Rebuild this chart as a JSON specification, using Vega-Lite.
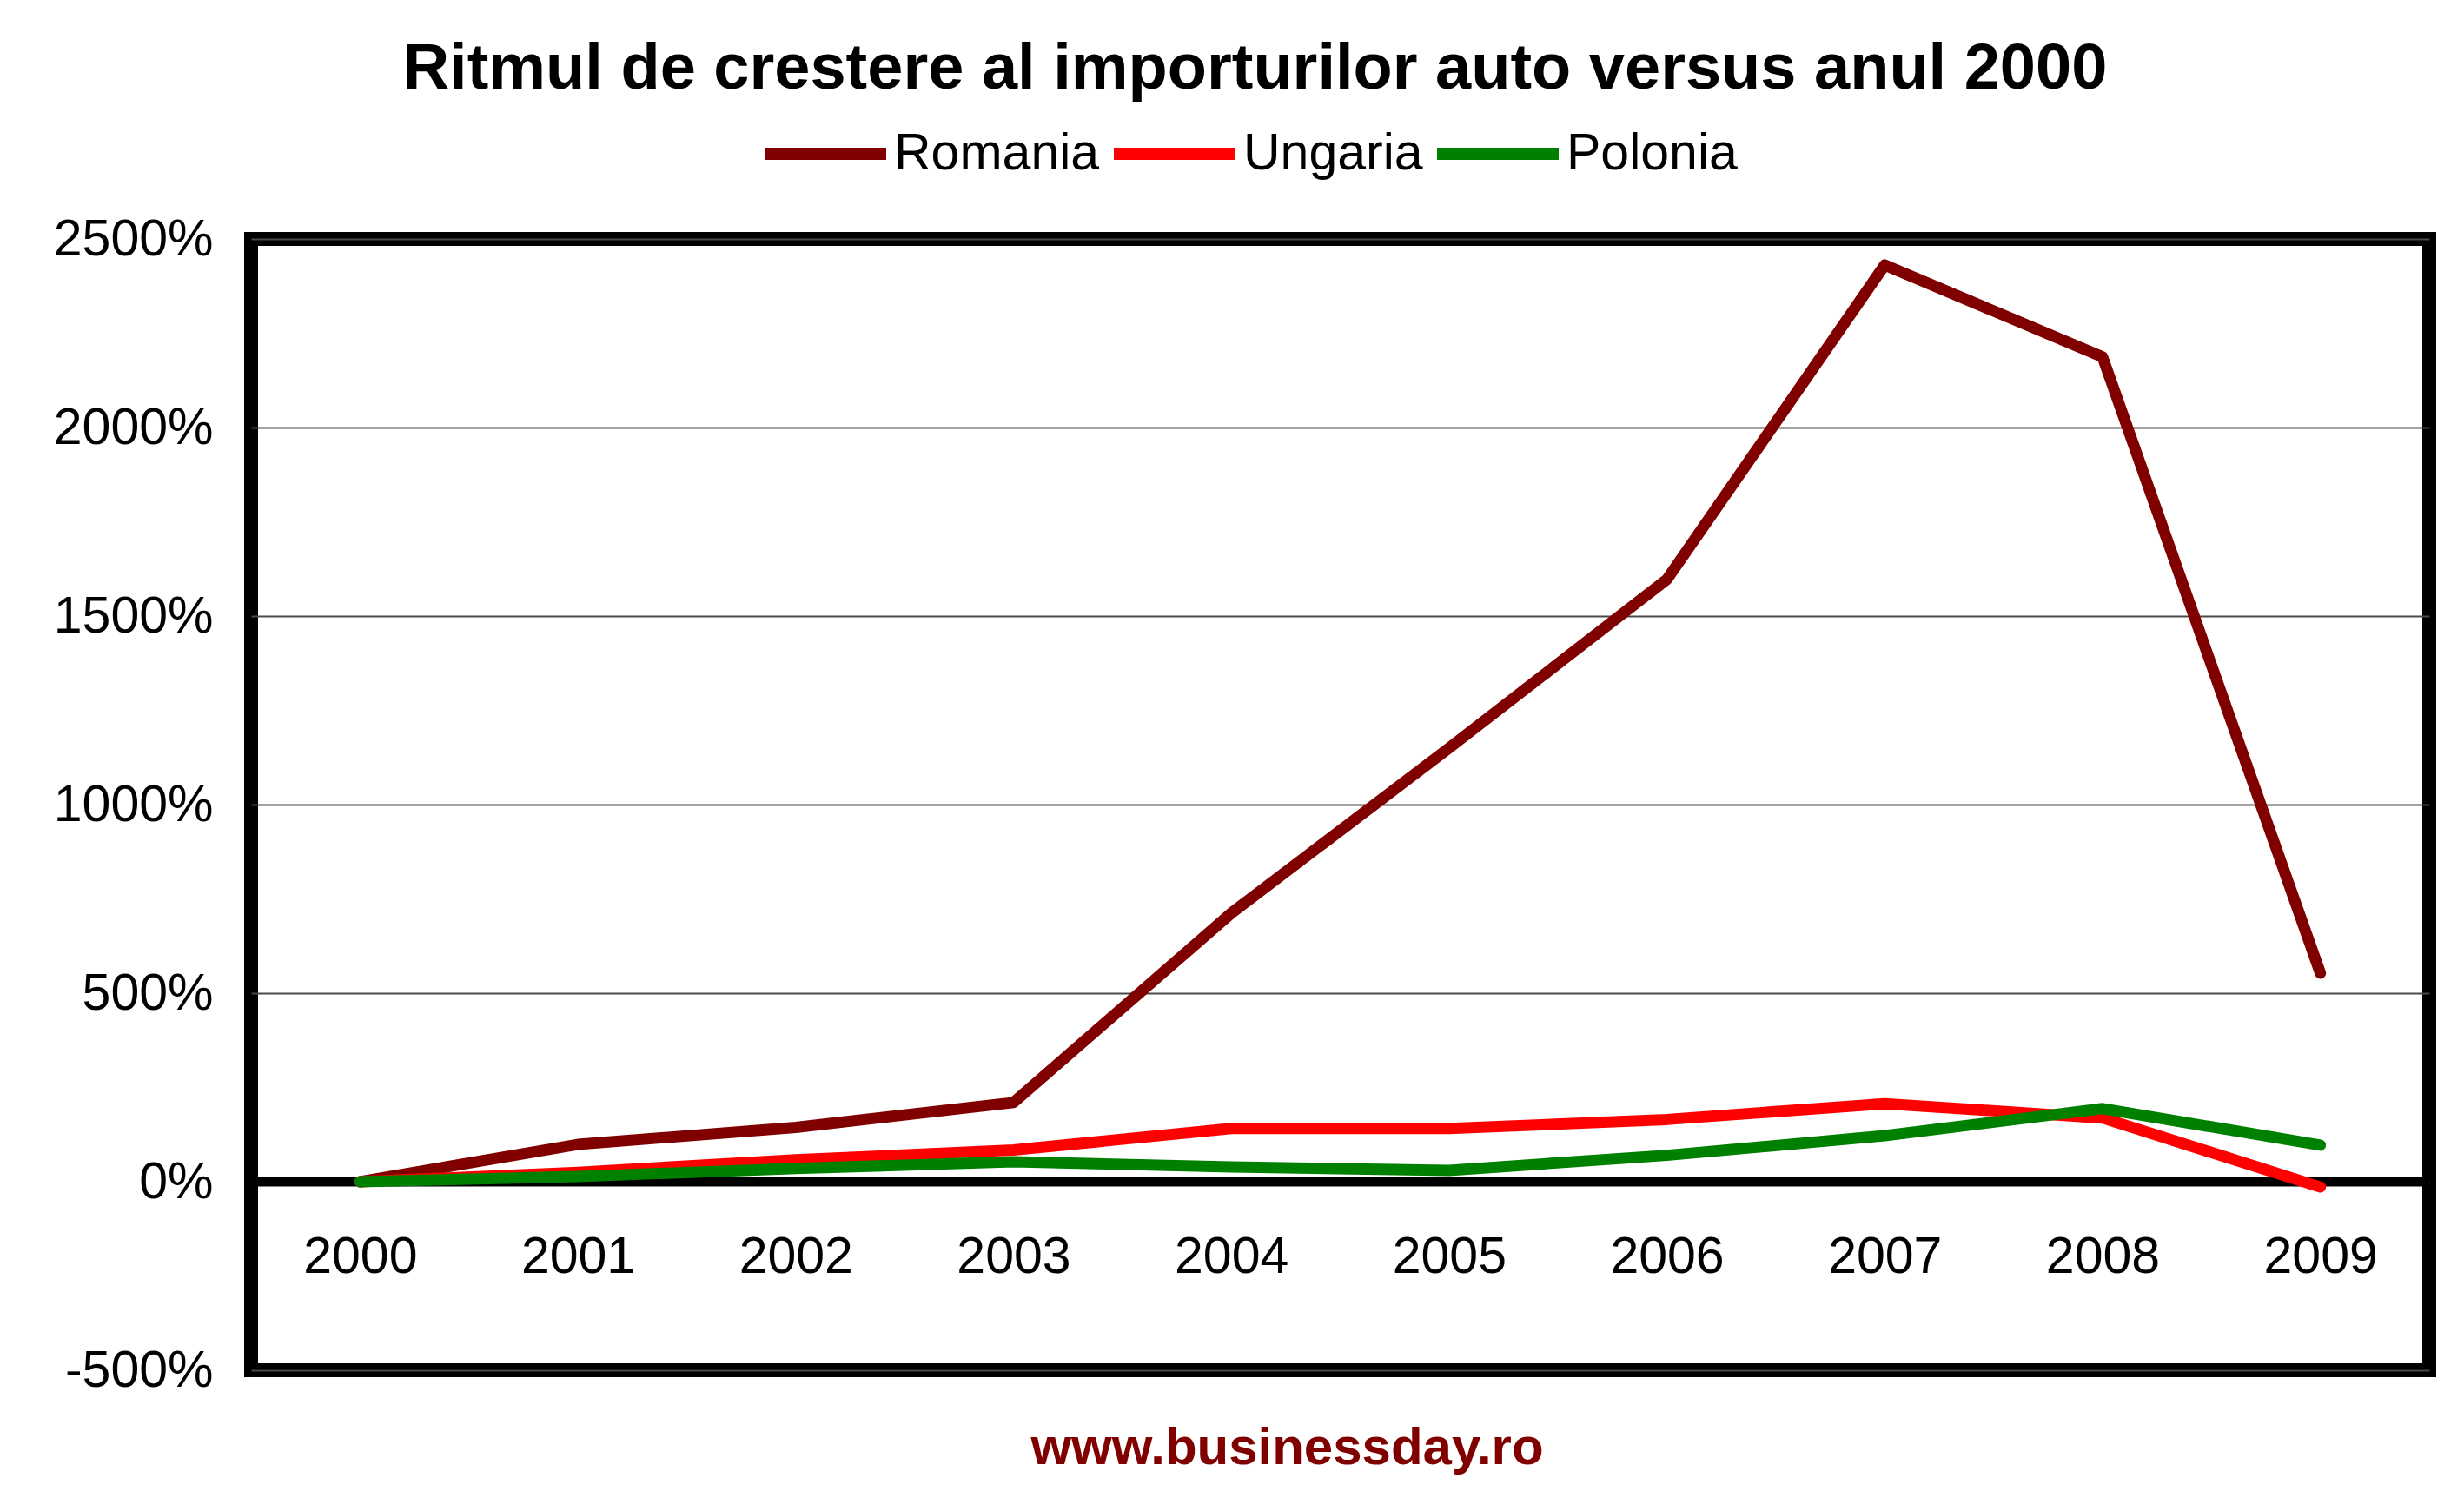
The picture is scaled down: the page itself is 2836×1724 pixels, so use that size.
{
  "$schema": "https://vega.github.io/schema/vega-lite/v6.json",
  "width": 2507,
  "height": 1302,
  "autosize": "none",
  "padding": {"left": 289, "top": 275, "right": 40, "bottom": 147},
  "background": "white",
  "title": {
    "text": "Ritmul de crestere al importurilor auto versus anul 2000",
    "font": "Liberation Sans",
    "fontSize": 74,
    "fontWeight": "bold",
    "color": "black",
    "anchor": "middle",
    "dx": -98,
    "offset": -18
  },
  "datasets": {
    "zero": [{"v": 0}]
  },
  "data": {
    "values": [
      {"year": "2000", "tara": "Romania", "val": 0},
      {"year": "2001", "tara": "Romania", "val": 99},
      {"year": "2002", "tara": "Romania", "val": 144},
      {"year": "2003", "tara": "Romania", "val": 210},
      {"year": "2004", "tara": "Romania", "val": 712},
      {"year": "2005", "tara": "Romania", "val": 1150},
      {"year": "2006", "tara": "Romania", "val": 1597},
      {"year": "2007", "tara": "Romania", "val": 2431},
      {"year": "2008", "tara": "Romania", "val": 2187},
      {"year": "2009", "tara": "Romania", "val": 553},
      {"year": "2000", "tara": "Ungaria", "val": 0},
      {"year": "2001", "tara": "Ungaria", "val": 25},
      {"year": "2002", "tara": "Ungaria", "val": 58},
      {"year": "2003", "tara": "Ungaria", "val": 84},
      {"year": "2004", "tara": "Ungaria", "val": 141},
      {"year": "2005", "tara": "Ungaria", "val": 141},
      {"year": "2006", "tara": "Ungaria", "val": 165},
      {"year": "2007", "tara": "Ungaria", "val": 207},
      {"year": "2008", "tara": "Ungaria", "val": 169},
      {"year": "2009", "tara": "Ungaria", "val": -14},
      {"year": "2000", "tara": "Polonia", "val": 0},
      {"year": "2001", "tara": "Polonia", "val": 14},
      {"year": "2002", "tara": "Polonia", "val": 35},
      {"year": "2003", "tara": "Polonia", "val": 53},
      {"year": "2004", "tara": "Polonia", "val": 39},
      {"year": "2005", "tara": "Polonia", "val": 30},
      {"year": "2006", "tara": "Polonia", "val": 70},
      {"year": "2007", "tara": "Polonia", "val": 122},
      {"year": "2008", "tara": "Polonia", "val": 194},
      {"year": "2009", "tara": "Polonia", "val": 97}
    ]
  },
  "layer": [
    {
      "data": {"name": "zero"},
      "mark": {"type": "rule", "color": "black", "strokeWidth": 11},
      "encoding": {
        "y": {"field": "v", "type": "quantitative", "scale": {"domain": [-500, 2500], "nice": false}}
      }
    },
    {
      "mark": {"type": "line", "strokeWidth": 13, "strokeCap": "round", "strokeJoin": "round"},
      "encoding": {
        "x": {
          "field": "year",
          "type": "ordinal",
          "scale": {"type": "point", "padding": 0.5},
          "axis": {
            "title": "www.businessday.ro",
            "titleFont": "Liberation Sans",
            "titleFontSize": 60,
            "titleFontWeight": "bold",
            "titleColor": "#800000",
            "titleX": 1192,
            "titleY": 325,
            "titleBaseline": "alphabetic",
            "titleAnchor": "middle",
            "offset": -218,
            "domain": false,
            "ticks": false,
            "labelAngle": 0,
            "labelPadding": 58,
            "labelLimit": 0,
            "labelFont": "Liberation Sans",
            "labelFontSize": 59,
            "labelColor": "black"
          }
        },
        "y": {
          "field": "val",
          "type": "quantitative",
          "scale": {"domain": [-500, 2500], "nice": false},
          "axis": {
            "title": null,
            "values": [-500, 0, 500, 1000, 1500, 2000, 2500],
            "labelExpr": "datum.value + '%'",
            "domain": false,
            "ticks": false,
            "labelPadding": 44,
            "labelLimit": 0,
            "labelFont": "Liberation Sans",
            "labelFontSize": 59,
            "labelColor": "black",
            "gridColor": "#4a4a4a",
            "gridWidth": 2
          }
        },
        "color": {
          "field": "tara",
          "type": "nominal",
          "scale": {"domain": ["Romania", "Ungaria", "Polonia"], "range": ["#800000", "#ff0000", "#008000"]},
          "sort": ["Romania", "Ungaria", "Polonia"],
          "legend": {
            "title": null,
            "orient": "none",
            "direction": "horizontal",
            "legendX": 584,
            "legendY": -175,
            "symbolType": "stroke",
            "symbolSize": 19600,
            "symbolStrokeWidth": 14,
            "labelFont": "Liberation Sans",
            "labelFontSize": 59,
            "labelLimit": 0,
            "labelColor": "black",
            "labelOffset": 2,
            "columnPadding": -12
          }
        }
      }
    }
  ],
  "config": {
    "view": {"stroke": "black", "strokeWidth": 16},
    "axis": {"gridColor": "#4a4a4a"}
  }
}
